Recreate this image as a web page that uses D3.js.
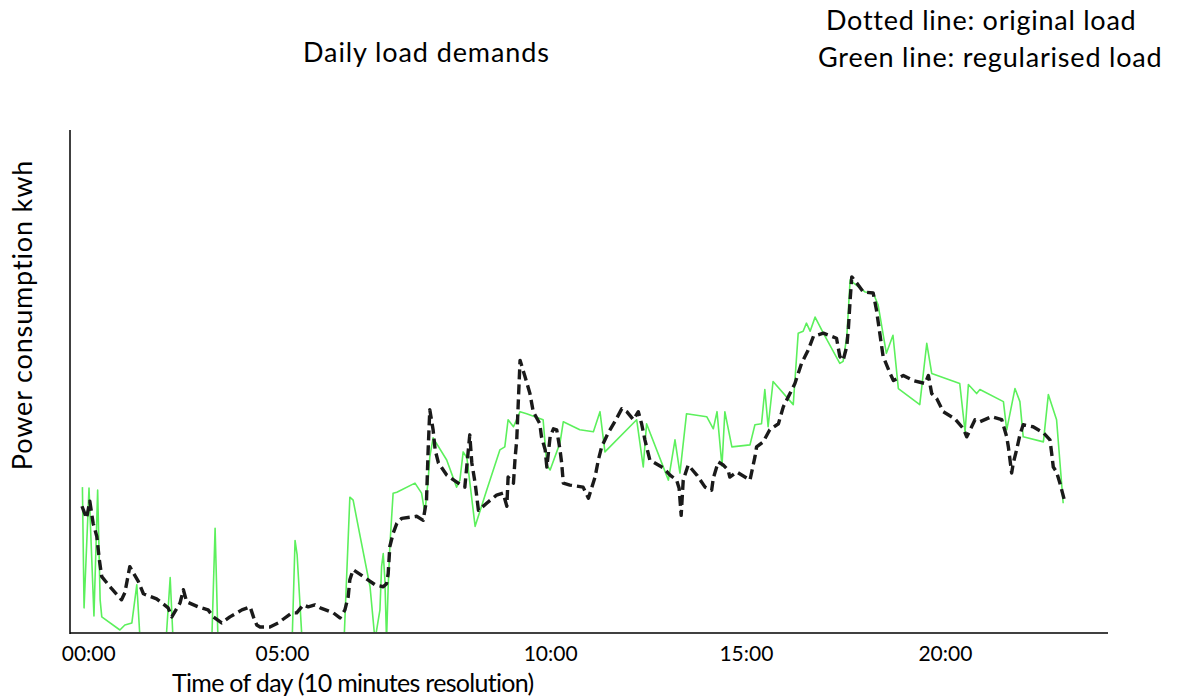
<!DOCTYPE html>
<html>
<head>
<meta charset="utf-8">
<script src="https://cdn.jsdelivr.net/npm/d3@7"></script>
<style>
  html, body { margin: 0; padding: 0; background: #fff; }
  svg { display: block; font-family: Lato, "Open Sans", sans-serif; }
</style>
</head>
<body>
<svg id="chart" width="1178" height="700"></svg>
<script>
// ---- data (time in hours of day, load in kWh) ----
const originalTime = [0.0,0.11,0.19,0.27,0.36,0.42,0.48,0.72,0.96,1.04,1.16,1.37,1.49,1.81,2.09,2.18,2.38,2.46,2.54,2.82,3.06,3.19,3.39,3.59,3.88,4.08,4.16,4.24,4.32,4.56,4.76,5.09,5.21,5.37,5.49,5.65,5.78,6.10,6.26,6.38,6.46,6.50,6.58,6.83,7.11,7.31,7.39,7.43,7.47,7.55,7.64,7.76,8.12,8.28,8.36,8.40,8.44,8.52,8.57,8.65,8.85,9.13,9.29,9.41,9.46,9.54,9.62,9.82,10.06,10.22,10.31,10.34,10.47,10.51,10.55,10.59,10.63,10.75,10.87,10.95,11.11,11.15,11.24,11.28,11.36,11.44,11.52,11.60,11.64,11.68,11.84,12.16,12.29,12.45,12.53,12.61,12.77,12.93,13.10,13.22,13.38,13.50,13.58,13.66,13.78,14.11,14.27,14.43,14.49,14.54,14.59,14.71,14.92,15.12,15.28,15.32,15.44,15.56,15.68,15.72,15.89,16.21,16.33,16.37,16.53,16.69,16.90,17.02,17.18,17.30,17.46,17.62,17.75,17.99,18.31,18.39,18.47,18.56,18.60,18.64,18.68,18.80,18.96,19.20,19.28,19.36,19.44,19.61,19.69,19.93,20.17,20.46,20.54,20.62,20.74,20.90,21.18,21.39,21.47,21.67,21.79,22.07,22.32,22.44,22.48,22.56,22.60,22.68,22.76,22.84,23.08,23.33,23.49,23.53,23.57,23.65,23.73,23.84];
const originalLoad = [1.26,1.14,1.31,1.09,0.96,0.73,0.56,0.44,0.33,0.40,0.66,0.51,0.39,0.34,0.25,0.16,0.30,0.43,0.31,0.26,0.23,0.16,0.10,0.16,0.23,0.26,0.16,0.08,0.06,0.06,0.10,0.20,0.20,0.28,0.26,0.28,0.25,0.20,0.15,0.23,0.36,0.53,0.63,0.56,0.48,0.46,0.49,0.59,0.86,0.99,1.09,1.14,1.16,1.12,1.32,1.82,2.22,2.02,1.82,1.69,1.57,1.49,1.45,1.97,1.69,1.49,1.22,1.29,1.37,1.39,1.26,1.55,1.49,1.74,1.92,2.32,2.71,2.55,2.38,2.20,2.08,1.95,1.82,1.65,1.95,2.03,2.02,1.82,1.69,1.49,1.47,1.45,1.34,1.55,1.72,1.85,1.99,2.10,2.23,2.20,2.12,2.20,2.08,1.92,1.72,1.64,1.57,1.52,1.44,1.17,1.52,1.67,1.57,1.45,1.42,1.54,1.70,1.67,1.62,1.55,1.60,1.52,1.75,1.85,1.90,2.02,2.08,2.25,2.38,2.48,2.68,2.81,2.95,2.98,2.93,2.75,2.71,2.85,3.04,3.31,3.54,3.48,3.39,3.38,3.21,2.98,2.75,2.58,2.51,2.56,2.51,2.48,2.56,2.38,2.33,2.20,2.13,2.03,1.95,2.12,2.10,2.15,2.12,1.95,1.85,1.59,1.69,1.82,1.97,2.07,2.05,1.99,1.92,1.79,1.65,1.60,1.49,1.32];

const regularisedTime = [0.01,0.05,0.17,0.29,0.38,0.44,0.48,0.92,1.04,1.21,1.33,1.41,2.04,2.14,2.21,3.15,3.23,3.30,5.10,5.17,5.22,5.34,6.36,6.50,6.58,6.75,6.99,7.11,7.23,7.27,7.31,7.35,7.39,7.43,7.47,7.55,7.64,8.08,8.24,8.32,8.40,8.44,8.52,8.85,9.09,9.17,9.25,9.34,9.54,9.82,10.14,10.26,10.34,10.47,10.63,10.79,11.19,11.28,11.36,11.60,11.68,12.08,12.41,12.57,12.69,13.46,13.62,13.70,14.23,14.39,14.51,14.67,15.16,15.32,15.41,15.53,15.60,15.77,16.21,16.33,16.49,16.57,16.65,16.77,17.26,17.38,17.50,17.58,17.67,17.79,17.99,18.39,18.47,18.56,18.64,18.72,19.00,19.20,19.32,19.52,19.68,19.81,20.33,20.50,20.62,21.30,21.43,21.51,21.71,21.79,22.36,22.44,22.64,22.76,22.84,23.33,23.45,23.65,23.81];
const regularisedLoad = [1.45,0.25,1.44,0.17,1.42,0.33,0.16,0.03,0.08,0.10,0.48,-0.07,-0.07,0.55,-0.07,-0.07,1.04,-0.07,-0.07,0.92,0.78,-0.07,-0.07,1.35,1.32,0.96,0.46,-0.07,0.23,0.66,0.79,0.53,-0.07,0.46,0.86,1.39,1.40,1.49,1.39,1.19,1.52,1.75,1.94,1.72,1.45,1.52,1.80,1.74,1.06,1.42,1.82,1.85,2.12,2.05,2.20,2.18,2.12,1.67,1.62,1.89,2.10,2.02,2.00,2.20,1.80,2.12,1.65,2.08,1.52,1.92,1.59,2.18,2.15,2.03,2.20,1.66,2.20,1.85,1.87,2.07,2.08,2.42,2.05,2.50,2.27,2.98,3.00,3.08,3.00,3.14,2.98,2.68,2.70,2.95,3.51,3.48,3.39,3.38,3.26,2.78,2.96,2.43,2.27,2.88,2.58,2.48,2.00,2.47,2.38,2.42,2.30,2.02,2.43,2.30,1.95,1.90,2.37,2.12,1.29];

const tickHours  = [0.15, 4.85, 11.36, 16.11, 20.94];
const tickLabels = ["00:00", "05:00", "10:00", "15:00", "20:00"];

const titleText = "Daily load demands";
const legendLines = ["Dotted line: original load", "Green line: regularised load"];
const xLabel = "Time of day (10 minutes resolution)";
const yLabel = "Power consumption kwh";

// ---- layout ----
const svg = d3.select("#chart");
const frame = { left: 70, right: 1108, top: 130, bottom: 633 };

const x = d3.scaleLinear().domain([0, 24]).range([82, 1071]);
const y = d3.scaleLinear().domain([0, 5]).range([633, 130]);

svg.append("defs").append("clipPath").attr("id", "plotClip")
  .append("rect")
  .attr("x", frame.left).attr("y", frame.top)
  .attr("width", frame.right - frame.left).attr("height", frame.bottom - frame.top - 1);

const plot = svg.append("g").attr("clip-path", "url(#plotClip)");

const line = d3.line().x(d => x(d[0])).y(d => y(d[1]));

const regData = regularisedTime.map((t, i) => [t, regularisedLoad[i]]);
const origData = originalTime.map((t, i) => [t, originalLoad[i]]);

plot.append("path")
  .datum(regData)
  .attr("d", line)
  .attr("fill", "none")
  .attr("stroke", "#5cf05c")
  .attr("stroke-width", 1.6)
  .attr("stroke-linejoin", "round");

plot.append("path")
  .datum(origData)
  .attr("d", line)
  .attr("fill", "none")
  .attr("stroke", "#1a1a1a")
  .attr("stroke-width", 3.4)
  .attr("stroke-dasharray", "10,5")
  .attr("stroke-linejoin", "round");

// ---- axes ----
const xAxis = d3.axisBottom(x)
  .tickValues(tickHours)
  .tickFormat((d, i) => tickLabels[i])
  .tickSize(0)
  .tickPadding(13);

const gx = svg.append("g")
  .attr("transform", `translate(0,${frame.bottom})`)
  .call(xAxis);
gx.select(".domain").remove();
gx.selectAll("text")
  .attr("font-family", "Lato, 'Open Sans', sans-serif")
  .attr("font-size", 21)
  .attr("fill", "#000");

// frame lines (axis lines)
svg.append("line")
  .attr("x1", frame.left).attr("x2", frame.left)
  .attr("y1", frame.top).attr("y2", frame.bottom + 1)
  .attr("stroke", "#000").attr("stroke-width", 1.5);
svg.append("line")
  .attr("x1", frame.left).attr("x2", frame.right)
  .attr("y1", frame.bottom).attr("y2", frame.bottom)
  .attr("stroke", "#000").attr("stroke-width", 1.5);

// ---- texts ----
svg.append("text")
  .attr("x", 303).attr("y", 62)
  .attr("font-size", 27)
  .attr("letter-spacing", 0.9)
  .text(titleText);

svg.append("text")
  .attr("x", 826).attr("y", 30)
  .attr("font-size", 27)
  .attr("letter-spacing", 0.75)
  .text(legendLines[0]);
svg.append("text")
  .attr("x", 818).attr("y", 67)
  .attr("font-size", 27)
  .attr("letter-spacing", 0.8)
  .text(legendLines[1]);

svg.append("text")
  .attr("x", 172).attr("y", 692)
  .attr("font-size", 25)
  .attr("letter-spacing", -0.7)
  .text(xLabel);

svg.append("text")
  .attr("transform", "translate(32,315) rotate(-90)")
  .attr("text-anchor", "middle")
  .attr("font-size", 27)
  .attr("letter-spacing", 0.85)
  .text(yLabel);
</script>
</body>
</html>
